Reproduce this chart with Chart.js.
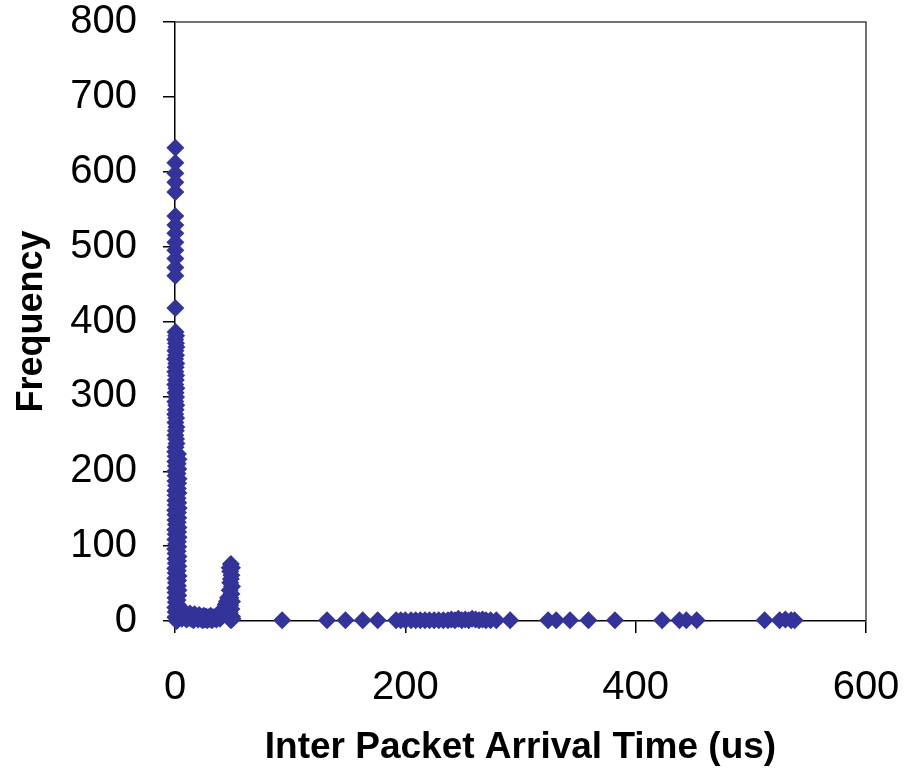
<!DOCTYPE html>
<html><head><meta charset="utf-8">
<script src="https://cdn.jsdelivr.net/npm/chart.js@4/dist/chart.umd.min.js"></script>
<style>html,body{margin:0;padding:0;background:#fff}#wrap{width:912px;height:770px}</style>
</head><body><div id="wrap"><canvas id="c" width="912" height="770"></canvas></div>
<script>
// [inter packet arrival time (us), frequency]
const peakTop = [[0.3,632],[0.3,612],[0.3,598],[0.3,586],[0.3,573],[0.3,541],[0.3,529],[0.3,518],[0.3,506],[0.3,495],[0.3,484],[0.3,472],[0.3,461],[0.3,418]];
const peakMid = [[0.5,386],[1.0,381],[0.2,376],[0.8,371],[1.2,366],[0.4,361],[0.9,355],[0.1,350],[1.1,344],[0.6,339],[0.3,333],[1.0,328],[0.7,322],[0.2,316],[1.2,311],[0.5,305],[0.9,299],[0.3,293],[1.1,288],[0.6,282],[0.2,276],[1.0,271],[0.4,265],[1.2,259],[0.7,254],[0.3,248],[0.9,243],[1.3,237],[0.5,232]];
const peakLow = [[0.2,226],[2.6,223],[0.6,220],[3.0,216],[0.3,213],[2.4,210],[0.8,207],[2.9,203],[0.1,200],[2.2,197],[0.5,194],[3.1,190],[0.4,187],[2.7,184],[0.9,181],[2.5,177],[0.2,174],[3.0,171],[0.6,168],[2.3,164],[0.3,161],[2.8,158],[0.7,155],[3.2,151],[0.1,148],[2.6,145],[0.5,142],[2.9,138],[0.4,135],[2.4,132],[0.8,129],[3.0,125],[0.2,122],[2.7,119],[0.6,116],[3.1,112],[0.3,109],[2.5,106],[0.9,103],[2.8,99],[0.1,96],[2.3,93],[0.5,90],[3.0,86],[0.4,83],[2.6,80],[0.7,77],[2.9,73],[0.2,70],[2.4,67],[0.6,64],[3.1,60],[0.3,57],[2.7,54],[0.8,51],[2.5,47],[0.1,44],[3.0,41],[0.5,38],[2.8,34],[0.4,31],[2.2,28],[0.7,25],[2.9,21],[0.2,18],[2.6,15],[0.6,12],[3.1,8],[0.3,5],[2.4,2],[1.5,0]];
const band = [[4,6],[5,10],[6,3],[7,12],[8,5],[9,11],[10,2],[11,8],[12,4],[13,10],[14,3],[15,7],[16,1],[17,9],[18,4],[19,6],[20,2],[21,8],[22,3],[23,5],[24,1],[25,7],[26,2],[27,6],[28,1],[29,5],[30,3],[31,7],[32,1],[33,5],[34,3],[35,6],[36,2],[37,5],[38,8],[39,3],[40,6],[41,10],[42,14],[43,18],[44,22],[45,26],[46,31]];
const bump = [[48.5,76],[47.5,71],[49.5,71],[48,66],[49,61],[48.5,56],[48,51],[49.5,46],[47.5,41],[49,36],[48,31],[49.5,26],[48,21],[49,16],[47.5,11],[49.5,6],[48.5,1],[50,3]];
const tail = [[93,1],[132,1],[148,1],[163,1],[176,1],[192,1],[196,1],[200,1],[205,1],[209,1],[213,1],[217,1],[221,1],[225,1],[229,1],[233,1],[237,1],[240,2],[243,1],[246,3],[249,1],[252,2],[255,1],[258,3],[261,2],[264,1],[267,2],[270,1],[274,1],[279,1],[291,1],[324,1],[331,1],[343,1],[359,1],[382,1],[423,1],[438,1],[444,1],[453,1],[512,1],[525,1],[530,2],[535,1],[538,1]];

const xTickValues = [0,200,400,600];
const yTickValues = [0,100,200,300,400,500,600,700,800];

const points = [...peakTop, ...peakMid, ...peakLow, ...band, ...bump, ...tail].map(p => ({x:p[0], y:p[1]}));

const FONT = "'Liberation Sans', Arial, sans-serif";

const frame = {
  id: 'frame',
  beforeDatasetsDraw(chart) {
    const {ctx, chartArea: a} = chart;
    ctx.save();
    ctx.strokeStyle = '#444';
    ctx.lineWidth = 1.5;
    ctx.beginPath();
    ctx.moveTo(a.left, a.top);
    ctx.lineTo(a.right, a.top);
    ctx.lineTo(a.right, a.bottom);
    ctx.stroke();
    ctx.restore();
  }
};

new Chart(document.getElementById('c'), {
  type: 'scatter',
  data: { datasets: [{
    label: 'Frequency',
    data: points,
    pointStyle: 'rectRot',
    pointRadius: 9,
    pointHoverRadius: 9,
    backgroundColor: '#333399',
    borderColor: '#333399',
    borderWidth: 0,
    clip: false
  }]},
  options: {
    responsive: false,
    animation: false,
    devicePixelRatio: 1,
    layout: { padding: { top: 22, right: 46, bottom: 0, left: 0 } },
    plugins: { legend: { display: false }, tooltip: { enabled: false } },
    scales: {
      x: {
        type: 'linear', min: 0, max: 600,
        afterBuildTicks: s => { s.ticks = xTickValues.map(v => ({value: v})); },
        afterFit: s => { s.height = 149; s.paddingLeft = 0; s.paddingRight = 0; },
        grid: { drawOnChartArea: false, tickLength: 12, color: '#000', lineWidth: 1.5 },
        border: { color: '#000', width: 1.5 },
        ticks: { color: '#000', padding: 35, maxRotation: 0, font: { family: FONT, size: 40, lineHeight: 1.0 } },
        title: { display: true, text: 'Inter Packet Arrival Time (us)', color: '#000',
                 font: { family: FONT, size: 37, weight: 'bold' }, padding: { top: 0, bottom: 0 } }
      },
      y: {
        type: 'linear', min: 0, max: 800,
        afterBuildTicks: s => { s.ticks = yTickValues.map(v => ({value: v})); },
        afterFit: s => { s.width = 175; s.paddingTop = 0; s.paddingBottom = 0; },
        grid: { drawOnChartArea: false, tickLength: 12, color: '#000', lineWidth: 1.5 },
        border: { color: '#000', width: 1.5 },
        ticks: { color: '#000', padding: 26, font: { family: FONT, size: 40, lineHeight: 1.0 } },
        title: { display: true, text: 'Frequency', color: '#000',
                 font: { family: FONT, size: 36, weight: 'bold' }, padding: { top: 10, bottom: 0 } }
      }
    }
  },
  plugins: [frame]
});
</script>
</body></html>
